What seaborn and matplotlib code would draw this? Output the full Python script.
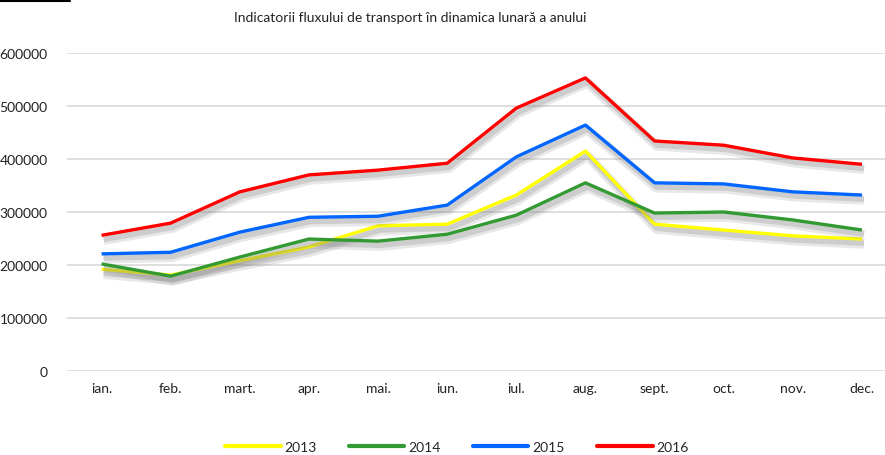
import matplotlib
matplotlib.use("Agg")
import matplotlib.pyplot as plt
import matplotlib.patheffects as pe
from matplotlib.lines import Line2D
import seaborn as sns
import pandas as pd

months = ["ian.", "feb.", "mart.", "apr.", "mai.", "iun.", "iul.", "aug.", "sept.", "oct.", "nov.", "dec."]
v2013 = [192000, 181000, 208000, 234000, 274000, 277000, 332000, 415000, 277000, 266000, 255000, 249000]
v2014 = [202000, 179000, 215000, 249000, 245000, 258000, 294000, 355000, 298000, 300000, 285000, 266000]
v2015 = [221000, 224000, 262000, 290000, 292000, 313000, 404000, 464000, 355000, 353000, 338000, 332000]
v2016 = [256000, 279000, 338000, 370000, 379000, 392000, 496000, 553000, 434000, 426000, 402000, 390000]
years = ["2013", "2014", "2015", "2016"]
colors = ["#FFFF00", "#339933", "#0066FF", "#FF0000"]

rows = []
for y, vals in zip(years, [v2013, v2014, v2015, v2016]):
    for i, v in enumerate(vals):
        rows.append({"idx": i, "month": months[i], "value": v, "year": y})
df = pd.DataFrame(rows)

sns.set_theme(style="white")
plt.rcParams['font.family'] = ['Lato', 'DejaVu Sans']

fig = plt.figure(figsize=(8.85, 4.56), dpi=100)
ax = fig.add_axes([67/885, 1-372/456, 829.5/885, (372-54)/456])

sns.lineplot(data=df, x="idx", y="value", hue="year", palette=dict(zip(years, colors)),
             linewidth=2.4, ax=ax, legend=False, zorder=3)
for ln in ax.get_lines():
    ln.set_path_effects([pe.SimpleLineShadow(offset=(1.5, -3.5), shadow_color="gray", alpha=0.18, linewidth=7),
                         pe.SimpleLineShadow(offset=(1.5, -3), shadow_color="gray", alpha=0.25, linewidth=4),
                         pe.Normal()])
    ln.set_solid_capstyle("butt")

ax.set_xlim(-0.5, 11.5)
ax.set_ylim(0, 600000)
ax.set_yticks(range(0, 600001, 100000))
ax.set_yticklabels([str(t) for t in range(0, 600001, 100000)], fontsize=10, color="#222222")
ax.set_xticks(range(12))
ax.set_xticklabels(months, fontsize=10, color="#222222")
ax.tick_params(axis="both", length=0, pad=8)
ax.tick_params(axis="y", pad=14)
ax.yaxis.grid(True, color="#d9d9d9", linewidth=1.2)
ax.set_axisbelow(True)
for s in ax.spines.values():
    s.set_visible(False)
ax.set_xlabel("")
ax.set_ylabel("")

fig.text(410/885, 1-18/456, "Indicatorii fluxului de transport în dinamica lunară a anului",
         ha="center", va="center", fontsize=10, color="#222222")

fig.add_artist(Line2D([0, 70/885], [1-2/456, 1-2/456], color="black", linewidth=1.5))

handles = [Line2D([], [], color=c, linewidth=3) for c in colors]
fig.legend(handles, years, loc="center", bbox_to_anchor=(457/885, 1-448/456), ncol=4,
           frameon=False, fontsize=10, handlelength=4, columnspacing=2.3, handletextpad=0.3)

fig.savefig("out.png", dpi=100, facecolor="white")
